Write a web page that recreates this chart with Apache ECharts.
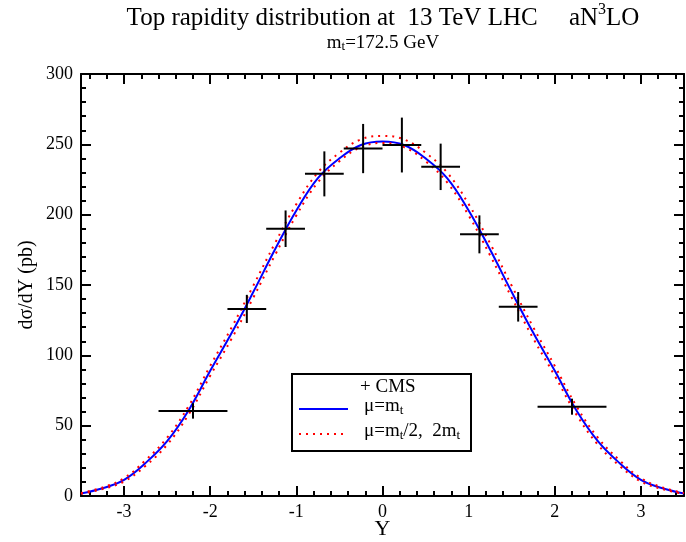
<!DOCTYPE html>
<html>
<head>
<meta charset="utf-8">
<script src="https://cdn.jsdelivr.net/npm/echarts@6/dist/echarts.min.js"></script>
<style>
  html, body { margin: 0; padding: 0; background: #fff; }
  #chart { width: 686px; height: 542px; }
</style>
</head>
<body>
<div id="chart"></div>
<script>
// theory curves, sampled every 0.25 in Y
var rapidity = [-3.5, -3.25, -3, -2.75, -2.5, -2.25, -2, -1.75, -1.5, -1.25, -1, -0.75, -0.5, -0.25, 0,
                0.25, 0.5, 0.75, 1, 1.25, 1.5, 1.75, 2, 2.25, 2.5, 2.75, 3, 3.25, 3.5];
var centralMu = [1.8, 5.5, 11.5, 23.5, 39, 61, 89, 116, 145, 175, 203, 226, 240, 249.5, 252,
                 249.5, 240, 226, 203, 175, 145, 116, 89, 61, 39, 23.5, 11.5, 5.5, 1.8];
var upperMu = [2.1, 6.1, 12.7, 25.5, 41.5, 64, 92.5, 120, 149.5, 179.5, 207.5, 230, 244, 253.5, 256,
               253.5, 244, 230, 207.5, 179.5, 149.5, 120, 92.5, 64, 41.5, 25.5, 12.7, 6.1, 2.1];
var lowerMu = [1.5, 4.9, 10.3, 21.5, 36.5, 58, 85.5, 112, 141, 171, 199.5, 223, 238, 248, 251,
               248, 238, 223, 199.5, 171, 141, 112, 85.5, 58, 36.5, 21.5, 10.3, 4.9, 1.5];

// CMS data
var cmsY = [-2.2, -1.575, -1.125, -0.675, -0.225, 0.225, 0.675, 1.125, 1.575, 2.2];
var cmsBinLow = [-2.6, -1.8, -1.35, -0.9, -0.45, 0, 0.45, 0.9, 1.35, 1.8];
var cmsBinHigh = [-1.8, -1.35, -0.9, -0.45, 0, 0.45, 0.9, 1.35, 1.8, 2.6];
var cmsVal = [60.5, 133, 190, 229, 247, 249.5, 234, 186, 134.5, 63.5];
var cmsErr = [5.5, 10, 13, 16, 17.5, 19.5, 16.5, 13.5, 10.5, 5.7];

// ticks
var xMajor = [-3, -2, -1, 0, 1, 2, 3];
var xMinor = [-3.4, -3.2, -2.8, -2.6, -2.4, -2.2, -1.8, -1.6, -1.4, -1.2, -0.8, -0.6, -0.4, -0.2,
              0.2, 0.4, 0.6, 0.8, 1.2, 1.4, 1.6, 1.8, 2.2, 2.4, 2.6, 2.8, 3.2, 3.4];

var serif = 'Liberation Serif';

function pairs(xs, ys) {
    return xs.map(function (x, i) { return [x, ys[i]]; });
}

var cmsData = cmsY.map(function (y, i) {
    return [y, cmsVal[i], cmsBinLow[i], cmsBinHigh[i], cmsErr[i]];
});

function xAxisDef(pos, major) {
    return {
        type: 'value', min: -3.5, max: 3.5, position: pos,
        axisLine: { show: major, onZero: false, lineStyle: { color: '#000', width: 2 } },
        axisTick: {
            inside: true, length: major ? 10 : 5,
            customValues: major ? xMajor : xMinor,
            lineStyle: { color: '#000', width: 2 }
        },
        axisLabel: {
            show: major && pos === 'bottom', customValues: xMajor, margin: 7,
            color: '#000', fontFamily: serif, fontSize: 18
        },
        splitLine: { show: false },
        name: major && pos === 'bottom' ? 'Y' : '',
        nameLocation: 'middle', nameGap: 22, nameMoveOverlap: false,
        nameTextStyle: { color: '#000', fontFamily: serif, fontSize: 22 }
    };
}

function yAxisDef(pos) {
    return {
        type: 'value', min: 0, max: 300, interval: 50, position: pos,
        axisLine: { show: true, onZero: false, lineStyle: { color: '#000', width: 2 } },
        axisTick: { inside: true, length: 10, lineStyle: { color: '#000', width: 2 } },
        minorTick: { show: true, splitNumber: 5, length: 5, lineStyle: { color: '#000', width: 2 } },
        axisLabel: { show: pos === 'left', margin: 8, color: '#000', fontFamily: serif, fontSize: 18 },
        splitLine: { show: false },
        name: pos === 'left' ? 'dσ/dY (pb)' : '',
        nameLocation: 'middle', nameGap: 44, nameMoveOverlap: false,
        nameTextStyle: { color: '#000', fontFamily: serif, fontSize: 20 }
    };
}

var legendFont = '19px "Liberation Serif"';
var subStyle = { fontSize: 13, fontFamily: serif, verticalAlign: 'bottom', lineHeight: 10 };

var myChart = echarts.init(document.getElementById('chart'));
myChart.setOption({
    animation: false,
    backgroundColor: '#fff',
    grid: { left: 81, right: 2, top: 74, bottom: 46, containLabel: false, outerBoundsMode: 'none' },
    xAxis: [xAxisDef('bottom', true), xAxisDef('bottom', false), xAxisDef('top', true), xAxisDef('top', false)],
    yAxis: [yAxisDef('left'), yAxisDef('right')],
    series: [
        {
            type: 'line', data: pairs(rapidity, centralMu), smooth: 0.4, showSymbol: false,
            lineStyle: { color: '#0000ff', width: 2 }, z: 2
        },
        {
            type: 'line', data: pairs(rapidity, upperMu), smooth: 0.4, showSymbol: false,
            lineStyle: { color: '#ff0000', width: 2, type: [2, 5] }, z: 3
        },
        {
            type: 'line', data: pairs(rapidity, lowerMu), smooth: 0.4, showSymbol: false,
            lineStyle: { color: '#ff0000', width: 2, type: [2, 5] }, z: 3
        },
        {
            type: 'custom', data: cmsData, z: 4,
            encode: { x: 0, y: 1 },
            renderItem: function (params, api) {
                var x = api.value(0), y = api.value(1);
                var lo = api.coord([api.value(2), y]);
                var hi = api.coord([api.value(3), y]);
                var top = api.coord([x, y + api.value(4)]);
                var bot = api.coord([x, y - api.value(4)]);
                var st = { stroke: '#000', lineWidth: 2 };
                return {
                    type: 'group',
                    children: [
                        { type: 'line', shape: { x1: lo[0], y1: lo[1], x2: hi[0], y2: hi[1] }, style: st },
                        { type: 'line', shape: { x1: top[0], y1: top[1], x2: bot[0], y2: bot[1] }, style: st }
                    ]
                };
            }
        }
    ],
    graphic: [
        {
            type: 'text', x: 383, y: 2,
            style: {
                text: 'Top rapidity distribution at  13 TeV LHC     aN{sup|3}LO',
                textAlign: 'center', fill: '#000', font: '25px "Liberation Serif"',
                lineHeight: 32,
                rich: { sup: { fontSize: 16, fontFamily: serif, verticalAlign: 'top', lineHeight: 12 } }
            }
        },
        {
            type: 'text', x: 383, y: 33,
            style: {
                text: 'm{sub|t}=172.5 GeV',
                textAlign: 'center', fill: '#000', font: '19px "Liberation Serif"',
                lineHeight: 20,
                rich: { sub: subStyle }
            }
        },
        {
            type: 'group', z: 10,
            children: [
                { type: 'rect', shape: { x: 292, y: 374, width: 179, height: 77 },
                  style: { fill: '#fff', stroke: '#000', lineWidth: 2 } },
                { type: 'text', x: 360, y: 378,
                  style: { text: '+ CMS', fill: '#000', font: legendFont } },
                { type: 'line', shape: { x1: 299, y1: 409, x2: 348, y2: 409 },
                  style: { stroke: '#0000ff', lineWidth: 2 } },
                { type: 'text', x: 364, y: 395,
                  style: { text: 'μ=m{sub|t}', fill: '#000', font: legendFont, lineHeight: 22, rich: { sub: subStyle } } },
                { type: 'line', shape: { x1: 299, y1: 434, x2: 348, y2: 434 },
                  style: { stroke: '#ff0000', lineWidth: 2, lineDash: [2, 5] } },
                { type: 'text', x: 364, y: 420,
                  style: { text: 'μ=m{sub|t}/2,  2m{sub|t}', fill: '#000', font: legendFont, lineHeight: 22, rich: { sub: subStyle } } }
            ]
        }
    ]
});
</script>
</body>
</html>
